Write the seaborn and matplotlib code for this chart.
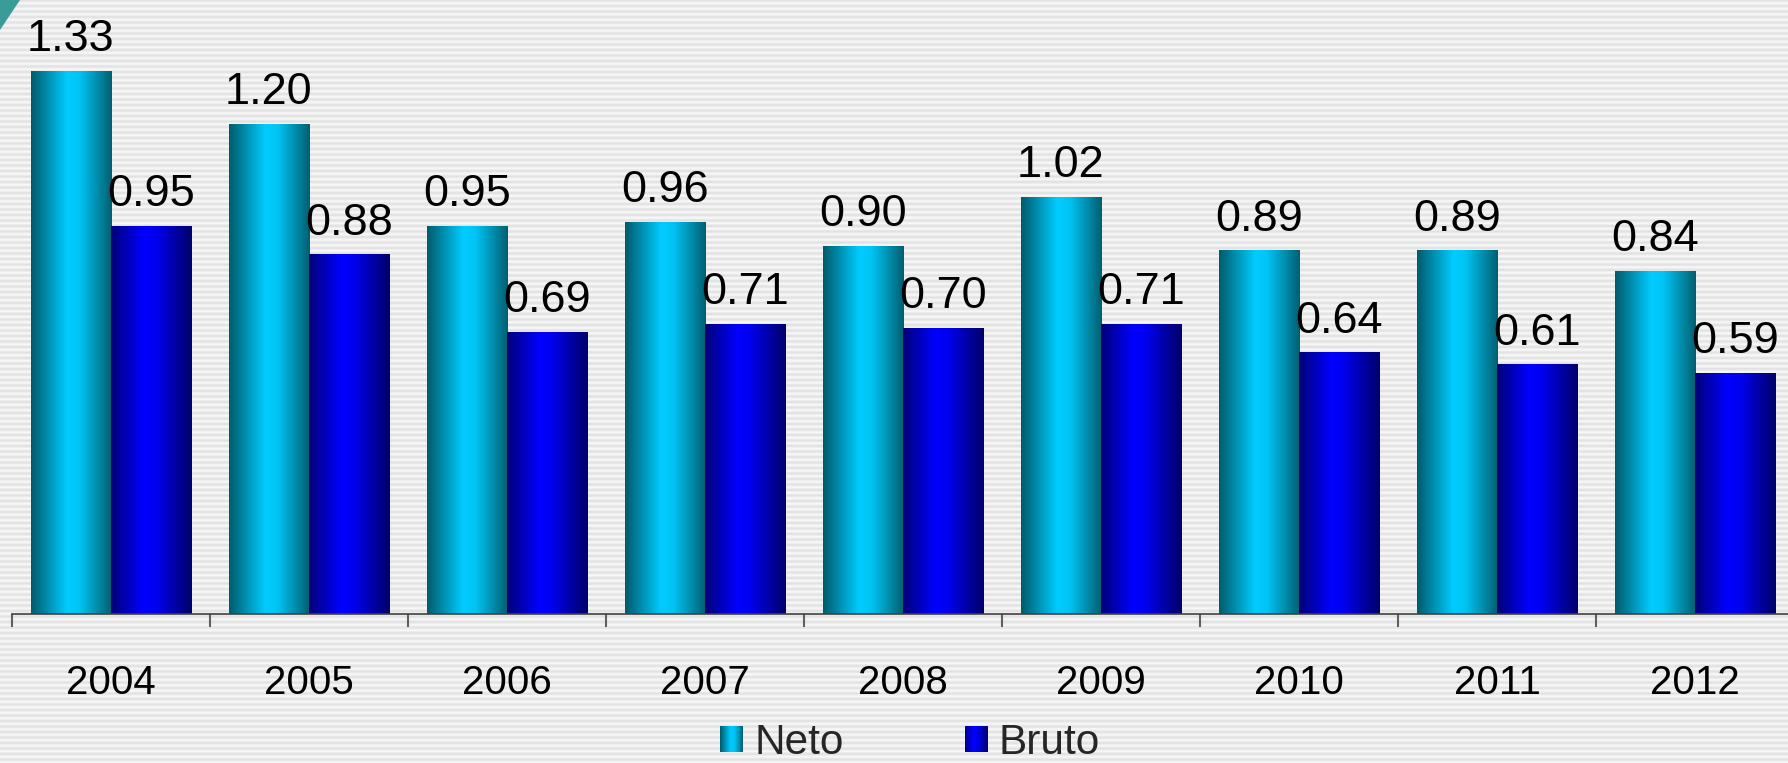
import numpy as np
import pandas as pd
import matplotlib
matplotlib.use("Agg")
import matplotlib.pyplot as plt
import seaborn as sns
from matplotlib.colors import LinearSegmentedColormap, to_rgb
from matplotlib.patches import Rectangle, Patch, Polygon
from matplotlib.legend_handler import HandlerBase

# ---- data ----
years = ["2004", "2005", "2006", "2007", "2008", "2009", "2010", "2011", "2012"]
neto = [1.33, 1.20, 0.95, 0.96, 0.90, 1.02, 0.89, 0.89, 0.84]
bruto = [0.95, 0.88, 0.69, 0.71, 0.70, 0.71, 0.64, 0.61, 0.59]
series_names = ["Neto", "Bruto"]

df = pd.DataFrame({
    "year": years * 2,
    "value": neto + bruto,
    "series": [series_names[0]] * len(years) + [series_names[1]] * len(years),
})

sns.set_theme(style="white")
plt.rcParams["font.family"] = ["Liberation Sans", "DejaVu Sans"]

W, H = 1788, 763
fig = plt.figure(figsize=(W / 100, H / 100), dpi=100)

# ---- striped background ----
bg = fig.add_axes([0, 0, 1, 1], zorder=-5)
rows = np.arange(H)
t = 0.5 + 0.5 * np.cos(2 * np.pi * rows / 5.5)
c_light = np.array(to_rgb("#f7f7f7"))
c_dark = np.array(to_rgb("#e2e2e2"))
img = (c_light[None, :] * (1 - t[:, None]) + c_dark[None, :] * t[:, None])
img = np.repeat(img[:, None, :], 4, axis=1)
bg.imshow(img, extent=[0, W, H, 0], aspect="auto", interpolation="bilinear")
bg.add_patch(Polygon([(0, 0), (20, 0), (0, 30)], closed=True, facecolor="#3a9c98", edgecolor="none"))
bg.set_xlim(0, W)
bg.set_ylim(H, 0)
bg.axis("off")

# ---- main axes ----
ax = fig.add_axes([12 / W, 149 / H, 1782 / W, 614 / H])
ax.patch.set_alpha(0)

cmap_neto = LinearSegmentedColormap.from_list(
    "neto", [(0, "#005b6c"), (0.45, "#00ccff"), (0.6, "#00c4f4"), (1, "#005f70")])
cmap_bruto = LinearSegmentedColormap.from_list(
    "bruto", [(0, "#000078"), (0.4, "#0000ff"), (0.55, "#0000f0"), (1, "#00006a")])

sns.barplot(data=df, x="year", y="value", hue="series", order=years,
            hue_order=series_names, palette={"Neto": "#00ccff", "Bruto": "#0000ff"},
            width=0.81, ax=ax, legend=False, saturation=1)

ax.set_xlim(-0.5, len(years) - 0.5)
ax.set_ylim(0, 1.504)

grad = np.linspace(0, 1, 256)[None, :]
for cont, cmap in zip(ax.containers, [cmap_neto, cmap_bruto]):
    for p in cont.patches:
        x, y0 = p.get_x(), p.get_y()
        w, h = p.get_width(), p.get_height()
        ax.imshow(grad, cmap=cmap, extent=[x, x + w, y0, y0 + h], aspect="auto",
                  interpolation="bilinear", zorder=2)
        p.set_facecolor("none")
        p.set_edgecolor("none")
    ax.bar_label(cont, fmt="%.2f", padding=8, fontsize=32.5, color="black")

ax.set_xlim(-0.5, len(years) - 0.5)
ax.set_ylim(0, 1.504)

for s in ["top", "right", "left"]:
    ax.spines[s].set_visible(False)
ax.spines["bottom"].set_color("#404040")
ax.spines["bottom"].set_linewidth(1.2)
ax.set_yticks([])
ax.set_xticks(range(len(years)))
ax.set_xticklabels(years, fontsize=29, color="black")
ax.tick_params(axis="x", which="major", bottom=True, length=0, pad=36)
ax.set_xticks(np.arange(-0.5, len(years), 1.0), minor=True)
ax.tick_params(axis="x", which="minor", bottom=True, length=9.5, width=1.5,
               color="#606060", direction="out")
ax.set_xlabel("")
ax.set_ylabel("")


class GradHandler(HandlerBase):
    def __init__(self, cmap):
        super().__init__()
        self.cmap = cmap

    def create_artists(self, legend, orig_handle, xdescent, ydescent, width, height, fontsize, trans):
        n = 24
        arts = []
        for i in range(n):
            r = Rectangle((-xdescent + i * width / n, -ydescent), width / n * 1.08, height,
                          facecolor=self.cmap((i + 0.5) / n), edgecolor="none", transform=trans)
            arts.append(r)
        return arts


h_neto = Patch(facecolor="#00ccff")
h_bruto = Patch(facecolor="#0000ff")
fig.legend([h_neto, h_bruto], series_names, loc="center", bbox_to_anchor=(0.509, 0.026),
           ncol=2, frameon=False, fontsize=30.5, handlelength=0.55, handleheight=0.58,
           handletextpad=0.26, columnspacing=2.85, borderpad=0, borderaxespad=0,
           handler_map={h_neto: GradHandler(cmap_neto), h_bruto: GradHandler(cmap_bruto)})

fig.savefig("out.png", dpi=100)
